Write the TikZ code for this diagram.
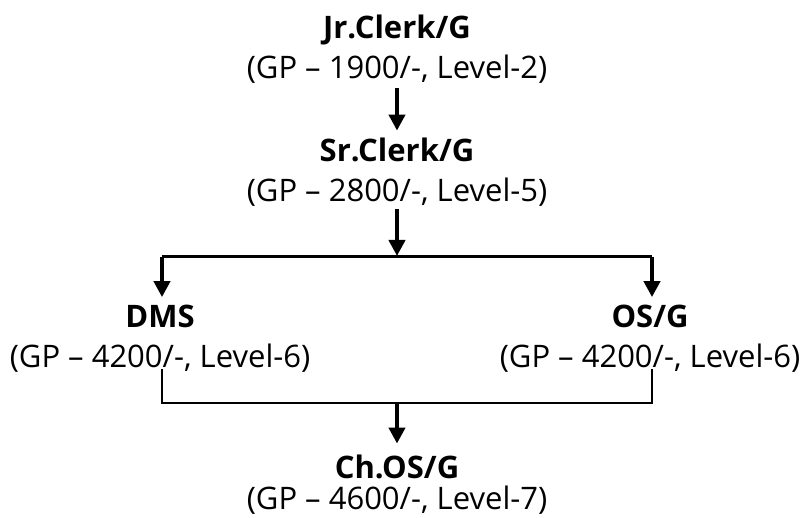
\documentclass[tikz,border=0pt]{standalone}
\usepackage{fontspec}
\setmainfont{Open Sans}
\usetikzlibrary{arrows.meta}
\tikzstyle{PostNode}=[align=center,inner sep=2pt,font=\fontsize{31}{40}\selectfont]
\tikzstyle{EdgeArrow}=[line width=4pt,-{Triangle[length=16pt,width=16pt]}]
\tikzstyle{EdgeBar}=[line width=3pt]
\tikzstyle{EdgeJoin}=[line width=2pt]
\begin{document}
\begin{tikzpicture}[x=1pt,y=-1pt]
        \useasboundingbox(0,0)rectangle(812,518);
        \node[PostNode](jr)at(397,49.5){\textbf{Jr.Clerk/G}\\(GP -- 1900/-, Level-2)};
        \node[PostNode](sr)at(397,172){\textbf{Sr.Clerk/G}\\(GP -- 2800/-, Level-5)};
        \node[PostNode](dms)at(160,339){\textbf{DMS}\\(GP -- 4200/-, Level-6)};
        \node[PostNode](os)at(650,339){\textbf{OS/G}\\(GP -- 4200/-, Level-6)};
        \node[PostNode](ch)at(397,484.5){\textbf{Ch.OS/G}\\[-9pt](GP -- 4600/-, Level-7)};
        \coordinate(split)at(397,257);
        \coordinate(join)at(397,403);
        \coordinate(dmsin)at(162,257);
        \coordinate(osin)at(652,257);
        \draw[EdgeArrow,shorten <=2pt,shorten >=5pt](jr)--(sr);
        \draw[EdgeArrow,shorten <=1pt,shorten >=1pt](sr)--(split);
        \draw[EdgeBar](dmsin)--(osin);
        \draw[EdgeArrow,shorten >=6pt](dmsin)--(dmsin|-dms.north);
        \draw[EdgeArrow,shorten >=6pt](osin)--(osin|-os.north);
        \draw[EdgeJoin]([yshift=6pt]dms.south-|dmsin)--(dmsin|-join)--(osin|-join)--([yshift=6pt]os.south-|osin);
        \draw[EdgeArrow,shorten >=9pt](join)--(ch);
    \end{tikzpicture}
\end{document}
